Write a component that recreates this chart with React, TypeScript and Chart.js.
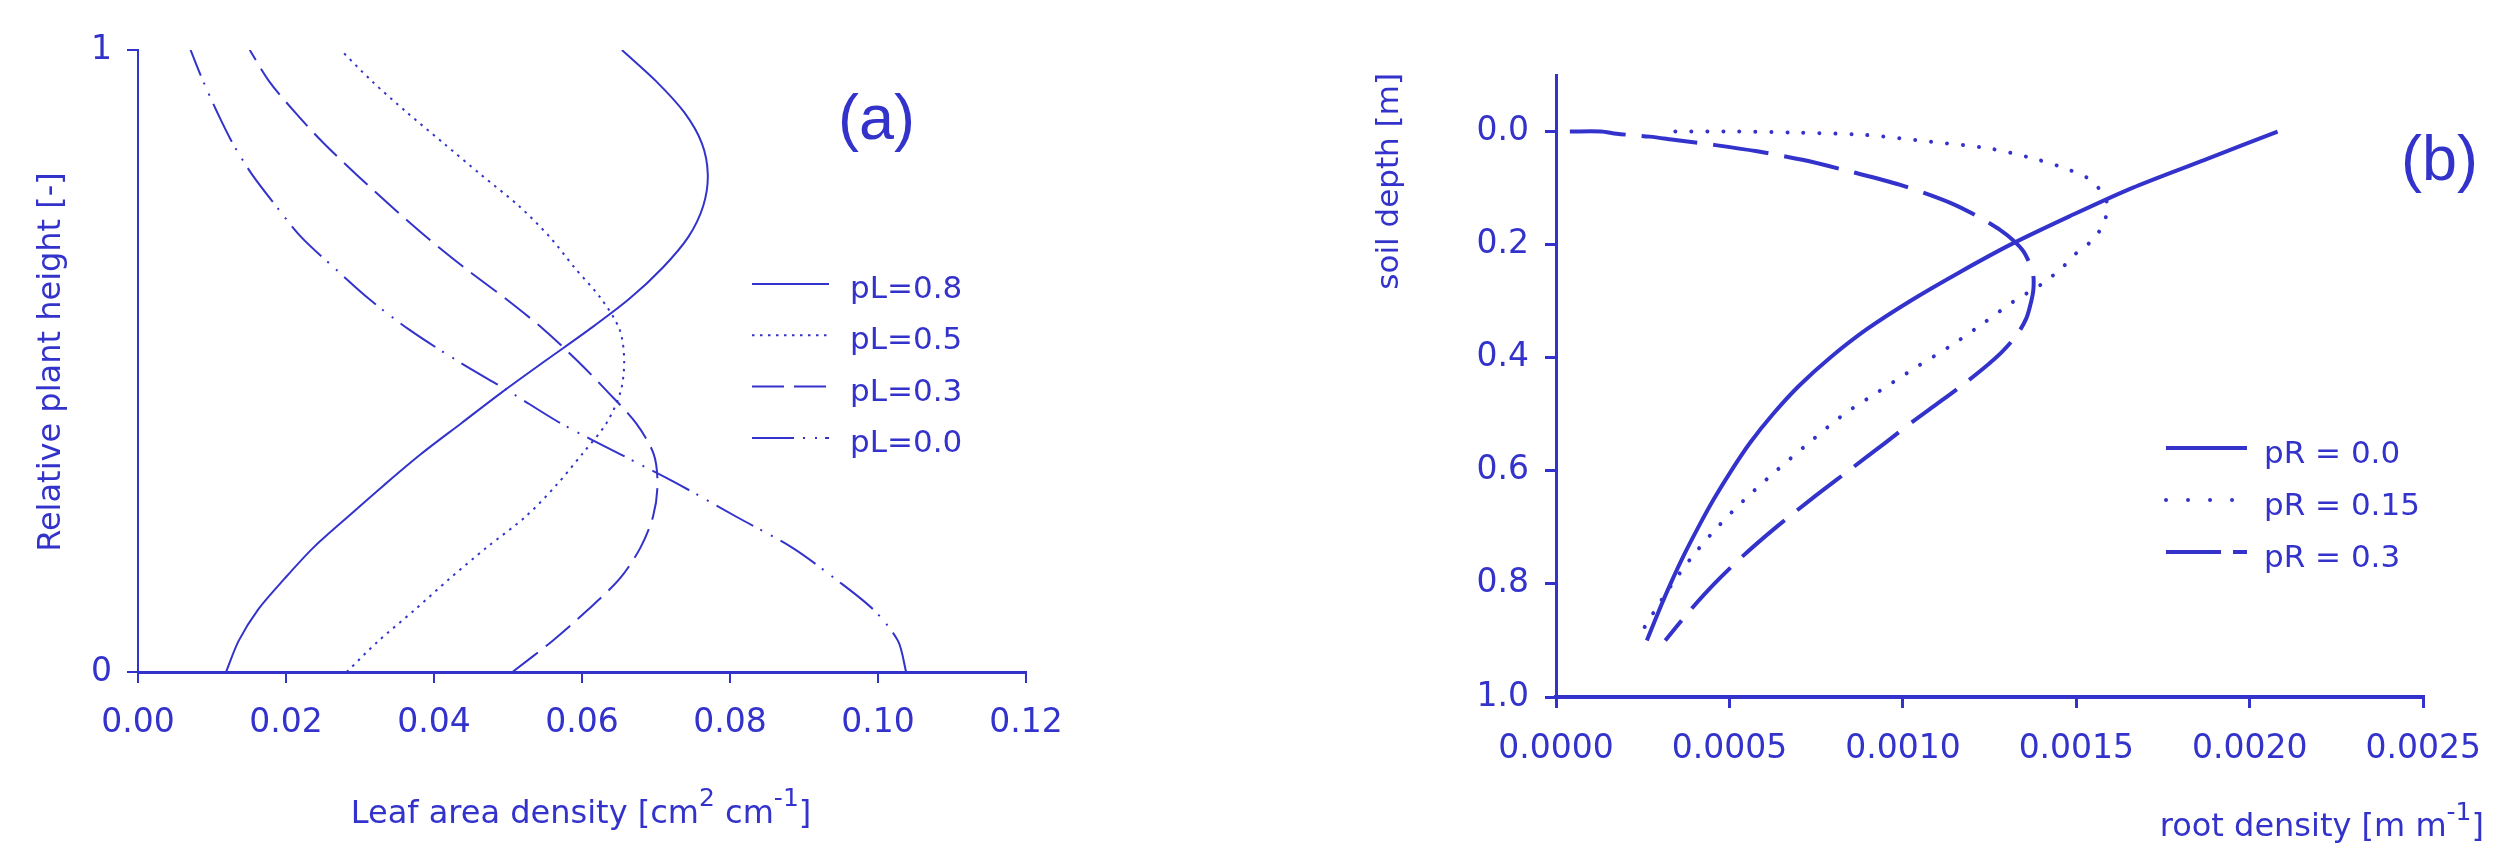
import React, { useEffect, useRef } from 'react';
import { Chart, registerables } from 'chart.js';

Chart.register(...registerables);

const BLUE = '#3333cc';
const SANS = "'DejaVu Sans', Verdana, sans-serif";
const ARIAL = "'Liberation Sans', Arial, sans-serif";

// ---------------- Panel (a): leaf area density vs relative plant height ----------------
const heightLevels = [0, 0.05, 0.1, 0.15, 0.2, 0.25, 0.3, 0.35, 0.4, 0.45, 0.5, 0.55, 0.6, 0.65, 0.7, 0.75, 0.8, 0.85, 0.9, 0.95, 1.0];
const ladPL08 = [0.0119, 0.0136, 0.0162, 0.0198, 0.0237, 0.0284, 0.0332, 0.0382, 0.0437, 0.0492, 0.0550, 0.0609, 0.0664, 0.0709, 0.0744, 0.0764, 0.0770, 0.0762, 0.0738, 0.0700, 0.0654];
const ladPL05 = [0.0282, 0.0325, 0.0374, 0.0421, 0.0471, 0.0524, 0.0565, 0.0600, 0.0633, 0.0652, 0.0657, 0.0651, 0.0626, 0.0590, 0.0556, 0.0514, 0.0463, 0.0413, 0.0363, 0.0316, 0.0274];
const ladPL03 = [0.0506, 0.0560, 0.0608, 0.0651, 0.0679, 0.0696, 0.0702, 0.0697, 0.0673, 0.0635, 0.0594, 0.0549, 0.0497, 0.0441, 0.0389, 0.0341, 0.0295, 0.0251, 0.0212, 0.0177, 0.0151];
const ladPL00 = [0.1038, 0.1027, 0.0994, 0.0942, 0.0884, 0.0808, 0.0733, 0.0652, 0.0571, 0.0503, 0.0432, 0.0367, 0.0312, 0.0265, 0.0220, 0.0186, 0.0154, 0.0128, 0.0107, 0.0088, 0.0071];
const legendA = ['pL=0.8', 'pL=0.5', 'pL=0.3', 'pL=0.0'];
const xTicksA = [0, 0.02, 0.04, 0.06, 0.08, 0.1, 0.12];
const yTicksA = [0, 1];
const panelLabelA = '(a)';
const yTitleA = 'Relative plant height [-]';
const xTitleA = [{ t: 'Leaf area density [cm' }, { t: '2', sup: true }, { t: ' cm' }, { t: '-1', sup: true }, { t: ']' }];

// ---------------- Panel (b): root density vs soil depth ----------------
const depthPR00 = [0, 0.05, 0.1, 0.15, 0.2, 0.25, 0.3, 0.35, 0.4, 0.45, 0.5, 0.55, 0.6, 0.65, 0.7, 0.75, 0.8, 0.85, 0.9];
const rootPR00 = [0.00208, 0.00187, 0.00166, 0.00148, 0.00131, 0.00116, 0.00102, 0.000895, 0.00079, 0.0007, 0.000625, 0.00056, 0.000505, 0.000455, 0.00041, 0.000368, 0.00033, 0.000295, 0.000262];
const depthPR015 = [0, 0, 0.002, 0.006, 0.018, 0.03, 0.05, 0.068, 0.085, 0.105, 0.13, 0.16, 0.19, 0.215, 0.24, 0.27, 0.3, 0.34, 0.38, 0.42, 0.46, 0.5, 0.55, 0.6, 0.65, 0.7, 0.75, 0.8, 0.85, 0.9];
const rootPR015 = [0.000344, 0.00052, 0.0007, 0.00089, 0.00108, 0.00125, 0.00139, 0.00148, 0.00154, 0.00157, 0.00159, 0.00158, 0.00155, 0.0015, 0.00146, 0.0014, 0.00132, 0.00123, 0.001135, 0.00103, 0.00093, 0.00083, 0.00073, 0.000635, 0.000545, 0.000465, 0.000395, 0.000335, 0.000282, 0.000232];
const depthPR03 = [0, 0, 0.004, 0.009, 0.015, 0.024, 0.035, 0.05, 0.071, 0.094, 0.127, 0.162, 0.183, 0.209, 0.233, 0.256, 0.28, 0.3, 0.33, 0.36, 0.39, 0.42, 0.45, 0.48, 0.51, 0.55, 0.6, 0.65, 0.7, 0.75, 0.8, 0.85, 0.9];
const rootPR03 = [0.00004, 0.00013, 0.000175, 0.00027, 0.000344, 0.00046, 0.00058, 0.00071, 0.00085, 0.00099, 0.00114, 0.00125, 0.0013, 0.001344, 0.001365, 0.001376, 0.001376, 0.00137, 0.001356, 0.001328, 0.001285, 0.00123, 0.001168, 0.001102, 0.001035, 0.00095, 0.000843, 0.000736, 0.000634, 0.00054, 0.000456, 0.000382, 0.000315];
const legendB = ['pR = 0.0', 'pR = 0.15', 'pR = 0.3'];
const xTicksB = [0, 0.0005, 0.001, 0.0015, 0.002, 0.0025];
const yTicksB = [0, 0.2, 0.4, 0.6, 0.8, 1.0];
const panelLabelB = '(b)';
const yTitleB = 'soil depth [m]';
const xTitleB = [{ t: 'root density [m m' }, { t: '-1', sup: true }, { t: ']' }];

// ---------------- layout ----------------
const PAGE_W = 2503;
const PAGE_H = 847;
const SPLIT = 1250;
const W_A = SPLIT;
const W_B = PAGE_W - SPLIT;
const AREA_A = { left: 138, right: 1026, top: 50, bottom: 672 };
const AREA_B = { left: 306, right: 1196, top: 75, bottom: 697 };
const TICK_FONT = 33;

type Part = { t: string; sup?: boolean };

const STYLE_A = [
  { dash: [] as number[], width: 2, cap: 'butt' as CanvasLineCap },
  { dash: [2.5, 5.5], width: 2, cap: 'butt' as CanvasLineCap },
  { dash: [32, 10], width: 2, cap: 'butt' as CanvasLineCap },
  { dash: [42, 9, 2, 10, 2, 8], width: 2, cap: 'butt' as CanvasLineCap },
];
const STYLE_B = [
  { dash: [] as number[], legendDash: [] as number[], width: 4, cap: 'butt' as CanvasLineCap },
  { dash: [0.01, 16], legendDash: [0.01, 22], width: 4, cap: 'round' as CanvasLineCap },
  { dash: [56, 16], legendDash: [55, 12], width: 4, cap: 'butt' as CanvasLineCap },
];

function pts(xs: number[], ys: number[]) {
  return xs.map((x, i) => ({ x, y: ys[i] }));
}

function drawRich(ctx: CanvasRenderingContext2D, parts: Part[], x: number, y: number, align: string, size: number, supSize: number, rise: number) {
  const widths = parts.map((p) => {
    ctx.font = `${p.sup ? supSize : size}px ${SANS}`;
    return ctx.measureText(p.t).width;
  });
  const total = widths.reduce((a, b) => a + b, 0);
  let cx = align === 'center' ? x - total / 2 : align === 'right' ? x - total : x;
  ctx.textAlign = 'left';
  ctx.textBaseline = 'alphabetic';
  parts.forEach((p, i) => {
    ctx.font = `${p.sup ? supSize : size}px ${SANS}`;
    ctx.fillText(p.t, cx, p.sup ? y - rise : y);
    cx += widths[i];
  });
}

function axisCommon(borderWidth: number, tickWidth: number) {
  return {
    grid: { display: true, drawOnChartArea: false, drawTicks: true, tickLength: 11, tickWidth, tickColor: BLUE, color: BLUE, lineWidth: tickWidth },
    border: { display: true, color: BLUE, width: borderWidth },
  };
}

const decorA = {
  id: 'decorA',
  afterDraw(chart: any) {
    const ctx: CanvasRenderingContext2D = chart.ctx;
    ctx.save();
    ctx.fillStyle = BLUE;
    ctx.strokeStyle = BLUE;
    ctx.font = `63px ${ARIAL}`;
    ctx.textAlign = 'left';
    ctx.textBaseline = 'alphabetic';
    ctx.fillText(panelLabelA, 838, 139);

    legendA.forEach((lab, i) => {
      const y = 284 + i * 51.3;
      const st = STYLE_A[i];
      ctx.beginPath();
      ctx.setLineDash(st.dash);
      ctx.lineWidth = st.width;
      ctx.lineCap = st.cap;
      ctx.moveTo(752, y);
      ctx.lineTo(829, y);
      ctx.stroke();
      ctx.setLineDash([]);
      ctx.font = `31px ${SANS}`;
      ctx.textAlign = 'left';
      ctx.textBaseline = 'alphabetic';
      ctx.fillText(lab, 850, y + 14);
    });

    drawRich(ctx, xTitleA, 581, 823, 'center', 32, 25, 17);

    ctx.save();
    ctx.translate(59.5, 362);
    ctx.rotate(-Math.PI / 2);
    ctx.font = `32px ${SANS}`;
    ctx.textAlign = 'center';
    ctx.textBaseline = 'alphabetic';
    ctx.fillText(yTitleA, 0, 0);
    ctx.restore();
    ctx.restore();
  },
};

const decorB = {
  id: 'decorB',
  afterDraw(chart: any) {
    const ctx: CanvasRenderingContext2D = chart.ctx;
    ctx.save();
    ctx.fillStyle = BLUE;
    ctx.strokeStyle = BLUE;
    ctx.font = `63px ${ARIAL}`;
    ctx.textAlign = 'left';
    ctx.textBaseline = 'alphabetic';
    ctx.fillText(panelLabelB, 1151, 180);

    legendB.forEach((lab, i) => {
      const y = 448 + i * 52;
      const st = STYLE_B[i];
      ctx.beginPath();
      ctx.setLineDash(st.legendDash);
      ctx.lineWidth = st.width;
      ctx.lineCap = st.cap;
      ctx.moveTo(916, y);
      ctx.lineTo(997, y);
      ctx.stroke();
      ctx.setLineDash([]);
      ctx.font = `31px ${SANS}`;
      ctx.textAlign = 'left';
      ctx.textBaseline = 'alphabetic';
      ctx.fillText(lab, 1014, y + 15);
    });

    drawRich(ctx, xTitleB, 1234, 836, 'right', 32, 25, 16);

    ctx.save();
    ctx.translate(148, 73);
    ctx.rotate(-Math.PI / 2);
    ctx.font = `31px ${SANS}`;
    ctx.textAlign = 'right';
    ctx.textBaseline = 'alphabetic';
    ctx.fillText(yTitleB, 0, 0);
    ctx.restore();
    ctx.restore();
  },
};

function configA(): any {
  const series = [ladPL08, ladPL05, ladPL03, ladPL00];
  return {
    type: 'scatter',
    data: {
      datasets: series.map((s, i) => ({
        label: legendA[i],
        data: pts(s, heightLevels),
        showLine: true,
        borderColor: BLUE,
        backgroundColor: BLUE,
        borderWidth: STYLE_A[i].width,
        borderDash: STYLE_A[i].dash,
        borderCapStyle: STYLE_A[i].cap,
        pointRadius: 0,
        tension: 0.3,
      })),
    },
    options: {
      animation: false,
      responsive: false,
      devicePixelRatio: 1,
      events: [],
      layout: { padding: { left: 0, top: AREA_A.top, right: W_A - AREA_A.right, bottom: 0 } },
      plugins: { legend: { display: false }, tooltip: { enabled: false } },
      scales: {
        x: {
          type: 'linear',
          min: 0,
          max: 0.12,
          afterBuildTicks: (s: any) => { s.ticks = xTicksA.map((v) => ({ value: v })); },
          afterFit: (s: any) => { s.height = PAGE_H - AREA_A.bottom; },
          ticks: { color: BLUE, font: { family: SANS, size: TICK_FONT }, padding: 21, maxRotation: 0, minRotation: 0, autoSkip: false, callback: (v: any) => Number(v).toFixed(2) },
          ...axisCommon(3, 2),
        },
        y: {
          type: 'linear',
          min: 0,
          max: 1,
          afterBuildTicks: (s: any) => { s.ticks = yTicksA.map((v) => ({ value: v })); },
          afterFit: (s: any) => { s.width = AREA_A.left; },
          ticks: { color: BLUE, font: { family: SANS, size: TICK_FONT }, padding: 15, autoSkip: false, callback: (v: any) => String(v) },
          ...axisCommon(2, 2),
        },
      },
    },
    plugins: [decorA],
  };
}

function configB(): any {
  const xs = [rootPR00, rootPR015, rootPR03];
  const ys = [depthPR00, depthPR015, depthPR03];
  return {
    type: 'scatter',
    data: {
      datasets: xs.map((s, i) => ({
        label: legendB[i],
        data: pts(s, ys[i]),
        showLine: true,
        borderColor: BLUE,
        backgroundColor: BLUE,
        borderWidth: STYLE_B[i].width,
        borderDash: STYLE_B[i].dash,
        borderCapStyle: STYLE_B[i].cap,
        pointRadius: 0,
        tension: 0.3,
      })),
    },
    options: {
      animation: false,
      responsive: false,
      devicePixelRatio: 1,
      events: [],
      layout: { padding: { left: 0, top: AREA_B.top, right: W_B - AREA_B.right, bottom: 0 } },
      plugins: { legend: { display: false }, tooltip: { enabled: false } },
      scales: {
        x: {
          type: 'linear',
          min: 0,
          max: 0.0025,
          afterBuildTicks: (s: any) => { s.ticks = xTicksB.map((v) => ({ value: v })); },
          afterFit: (s: any) => { s.height = PAGE_H - AREA_B.bottom; },
          ticks: { color: BLUE, font: { family: SANS, size: TICK_FONT }, padding: 22, maxRotation: 0, minRotation: 0, autoSkip: false, callback: (v: any) => Number(v).toFixed(4) },
          ...axisCommon(4, 3),
        },
        y: {
          type: 'linear',
          min: -0.1,
          max: 1.0,
          reverse: true,
          afterBuildTicks: (s: any) => { s.ticks = yTicksB.map((v) => ({ value: v })); },
          afterFit: (s: any) => { s.width = AREA_B.left; },
          ticks: { color: BLUE, font: { family: SANS, size: TICK_FONT }, padding: 16, autoSkip: false, callback: (v: any) => Number(v).toFixed(1) },
          ...axisCommon(3, 3),
        },
      },
    },
    plugins: [decorB],
  };
}

export default function App() {
  const refA = useRef<HTMLCanvasElement>(null);
  const refB = useRef<HTMLCanvasElement>(null);

  useEffect(() => {
    const a = new Chart(refA.current as HTMLCanvasElement, configA());
    const b = new Chart(refB.current as HTMLCanvasElement, configB());
    return () => {
      a.destroy();
      b.destroy();
    };
  }, []);

  return (
    <div style={{ position: 'absolute', left: 0, top: 0, width: PAGE_W, height: PAGE_H, background: '#ffffff', overflow: 'hidden' }}>
      <canvas ref={refA} width={W_A} height={PAGE_H} style={{ position: 'absolute', left: 0, top: 0, width: W_A, height: PAGE_H }} />
      <canvas ref={refB} width={W_B} height={PAGE_H} style={{ position: 'absolute', left: SPLIT, top: 0, width: W_B, height: PAGE_H }} />
    </div>
  );
}
